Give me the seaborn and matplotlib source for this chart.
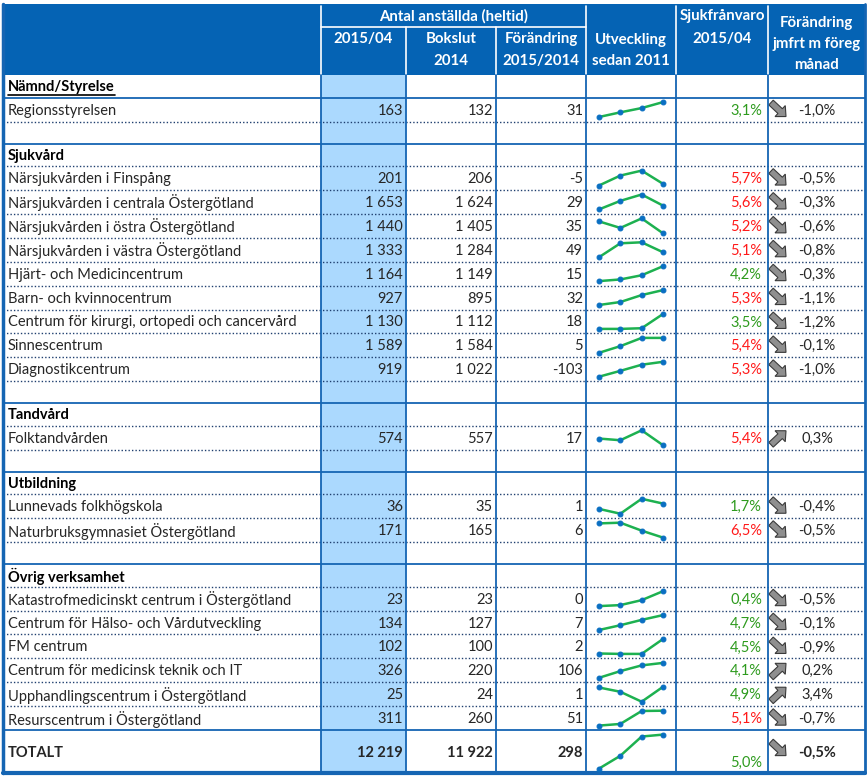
import numpy as np
import matplotlib
matplotlib.use("Agg")
import matplotlib.pyplot as plt
from matplotlib.patches import Rectangle, FancyArrow
import seaborn as sns

sns.set_style("white")
plt.rcParams['font.family'] = ['Lato', 'DejaVu Sans']

# table rows in display order
row_labels = ["Nämnd/Styrelse", "Regionsstyrelsen", "",
              "Sjukvård", "Närsjukvården i Finspång", "Närsjukvården i centrala Östergötland",
              "Närsjukvården i östra Östergötland", "Närsjukvården i västra Östergötland",
              "Hjärt- och Medicincentrum", "Barn- och kvinnocentrum",
              "Centrum för kirurgi, ortopedi och cancervård", "Sinnescentrum", "Diagnostikcentrum", "",
              "Tandvård", "Folktandvården", "",
              "Utbildning", "Lunnevads folkhögskola", "Naturbruksgymnasiet Östergötland", "",
              "Övrig verksamhet", "Katastrofmedicinskt centrum i Östergötland",
              "Centrum för Hälso- och Vårdutveckling", "FM centrum",
              "Centrum för medicinsk teknik och IT", "Upphandlingscentrum i Östergötland",
              "Resurscentrum i Östergötland", "TOTALT"]
row_kinds = ["group", "unit", "blank",
             "group"] + ["unit"] * 9 + ["blank",
             "group", "unit", "blank",
             "group", "unit", "unit", "blank",
             "group"] + ["unit"] * 6 + ["total"]

# values for unit rows + total (same order)
antal_2015 = [163, 201, 1653, 1440, 1333, 1164, 927, 1130, 1589, 919, 574, 36, 171,
              23, 134, 102, 326, 25, 311, 12219]
bokslut_2014 = [132, 206, 1624, 1405, 1284, 1149, 895, 1112, 1584, 1022, 557, 35, 165,
                23, 127, 100, 220, 24, 260, 11922]
forandring = [31, -5, 29, 35, 49, 15, 32, 18, 5, -103, 17, 1, 6, 0, 7, 2, 106, 1, 51, 298]
sjukfranvaro = [3.1, 5.7, 5.6, 5.2, 5.1, 4.2, 5.3, 3.5, 5.4, 5.3, 5.4, 1.7, 6.5,
                0.4, 4.7, 4.5, 4.1, 4.9, 5.1, 5.0]
sjuk_delta = [-1.0, -0.5, -0.3, -0.6, -0.8, -0.3, -1.1, -1.2, -0.1, -1.0, 0.3, -0.4, -0.5,
              -0.5, -0.1, -0.9, 0.2, 3.4, -0.7, -0.5]
# sparkline shapes (relative level per year, estimated)
trend = [[0, 4.7, 9, 15], [0, 10, 15, 1.7], [0, 9, 15.7, 4], [12, 5.4, 15, 0],
         [0, 14, 15, 5], [0, 1.7, 6, 15.3], [0, 3, 10, 15], [0, 0, 0.7, 15.7],
         [0, 6.7, 15, 15], [0, 6, 12.3, 15.3], [6.7, 5, 15, 0], [5, 0, 15.6, 10.6],
         [14.3, 15, 7, 0], [0, 1, 6, 15], [0, 5, 10.6, 15.6], [0.4, 0, 0, 15],
         [0, 7, 13, 15.6], [14.3, 10, 0, 15], [0, 1.7, 15, 15.3], [0, 13.3, 33.3, 35.3]]

HDR = '#0563b4'
LINE = '#1565b3'
DOT = '#1f3f6f'
LIGHT = '#abd9fe'
RED = '#ff1a1a'
GREEN = '#2e9b1e'
W, H = 868, 778

fig = plt.figure(figsize=(W / 100, H / 100), dpi=100)
ax = fig.add_axes([0, 0, 1, 1])
ax.set_xlim(0, W)
ax.set_ylim(H, 0)
ax.axis('off')

xl, xr = 3, 865
cols = [321, 406, 496, 586, 676, 768]
htop, hbot = 4, 75
heights = {'group': 22.6, 'unit': 23.9, 'blank': 22.0, 'total': 43.0}
tops = []
y = hbot
for k in row_kinds:
    tops.append(y)
    y += heights[k]
ybot = y

# header block
ax.add_patch(Rectangle((xl, htop), xr - xl, hbot - htop, color=HDR, lw=0))
ax.add_patch(Rectangle((cols[0], hbot), cols[1] - cols[0], ybot - hbot, color=LIGHT, lw=0))
for x in [cols[0], cols[3], cols[4], cols[5]]:
    ax.plot([x, x], [htop + 2, hbot], color='white', lw=1.2)
for x in [cols[1], cols[2]]:
    ax.plot([x, x], [27, hbot], color='white', lw=1.2)
ax.plot([cols[0], cols[3]], [27, 27], color='white', lw=1.2)

hkw = dict(color='white', fontsize=10.8, fontweight='bold', ha='center', va='center')
ax.text((cols[0] + cols[3]) / 2, 16, "Antal anställda (heltid)", **hkw)
ax.text((cols[0] + cols[1]) / 2, 39, "2015/04", **hkw)
ax.text((cols[1] + cols[2]) / 2, 39, "Bokslut", **hkw)
ax.text((cols[1] + cols[2]) / 2, 61, "2014", **hkw)
ax.text((cols[2] + cols[3]) / 2, 39, "Förändring", **hkw)
ax.text((cols[2] + cols[3]) / 2, 61, "2015/2014", **hkw)
ax.text((cols[3] + cols[4]) / 2, 40, "Utveckling", **hkw)
ax.text((cols[3] + cols[4]) / 2, 61, "sedan 2011", **hkw)
ax.text((cols[4] + cols[5]) / 2, 16, "Sjukfrånvaro", **hkw)
ax.text((cols[4] + cols[5]) / 2, 39, "2015/04", **hkw)
ax.text((cols[5] + xr) / 2, 23, "Förändring", **hkw)
ax.text((cols[5] + xr) / 2, 44, "jmfrt m föreg", **hkw)
ax.text((cols[5] + xr) / 2, 65, "månad", **hkw)

# horizontal rules
for i, k in enumerate(row_kinds):
    if i == 0:
        continue
    yt = tops[i]
    if k in ('group', 'total') or i == 1:
        ax.plot([xl, xr], [yt, yt], color=LINE, lw=1.3)
    else:
        ax.plot([xl, xr], [yt, yt], color=DOT, lw=1.0, ls=(0, (1, 1.5)))
ax.plot([xl, xr], [ybot, ybot], color=LINE, lw=3)

# vertical rules
for x in cols:
    ax.plot([x, x], [hbot, ybot], color=LINE, lw=1.3)
ax.plot([xl, xl], [htop, ybot], color=LINE, lw=2.5)
ax.plot([xr, xr], [htop, ybot], color=LINE, lw=2.0)

fmt_n = lambda v: f"{v:,}".replace(",", " ")
fmt_p = lambda v: f"{v:.1f}%".replace(".", ",")

fs = 10.5
j = 0
for i, (lab, k) in enumerate(zip(row_labels, row_kinds)):
    yt = tops[i]
    yc = yt + heights[k] / 2 + 1
    if k == 'group':
        t = ax.text(8, yc, lab, fontsize=fs, fontweight='bold', va='center', ha='left', color='black')
        if i == 0:
            fig.canvas.draw()
            bb = t.get_window_extent(fig.canvas.get_renderer())
            ax.plot([bb.x0, bb.x1], [H - bb.y0 + 1, H - bb.y0 + 1], color='black', lw=1.2)
        continue
    if k == 'blank':
        continue
    bold = 'bold' if k == 'total' else 'normal'
    ax.text(8, yc, lab, fontsize=fs, fontweight=bold, va='center', ha='left')
    ax.text(cols[1] - 3, yc, fmt_n(antal_2015[j]), fontsize=fs, fontweight=bold, va='center', ha='right')
    ax.text(cols[2] - 3, yc, fmt_n(bokslut_2014[j]), fontsize=fs, fontweight=bold, va='center', ha='right')
    ax.text(cols[3] - 3, yc, fmt_n(forandring[j]), fontsize=fs, fontweight=bold, va='center', ha='right')
    ys = yt + heights[k] - 10 if k == 'total' else yc
    ax.text(cols[5] - 6, ys, fmt_p(sjukfranvaro[j]), fontsize=fs, va='center', ha='right',
            color=RED if sjukfranvaro[j] > 5.0 else GREEN)
    ya = yc - 4 if k == 'total' else yc - 1
    d = sjuk_delta[j]
    sgn = 1 if d < 0 else -1
    arr = FancyArrow(771, ya - 7 * sgn, 15, 14 * sgn, width=6.5, head_width=15, head_length=8,
                     length_includes_head=True, fc='#8f8f8f', ec='#3a3a3a', lw=0.8)
    ax.add_patch(arr)
    ax.text(817, yc, fmt_p(d), fontsize=fs, fontweight=bold, va='center', ha='center')

    # sparkline
    y0 = yt + 4.5
    y1 = yt + heights[k] - 4.5
    iax = fig.add_axes([599 / W, 1 - y1 / H, (663 - 599) / W, (y1 - y0) / H])
    vals = trend[j]
    sns.lineplot(x=np.arange(len(vals)), y=vals, ax=iax, color='#1db150', lw=1.8,
                 marker='o', markersize=3.5, markerfacecolor='#0a6fc2',
                 markeredgecolor='#0a6fc2', clip_on=False)
    iax.set_xlim(0, len(vals) - 1)
    iax.set_ylim(min(vals), max(vals))
    iax.axis('off')
    j += 1

fig.savefig('out.png', dpi=100)
